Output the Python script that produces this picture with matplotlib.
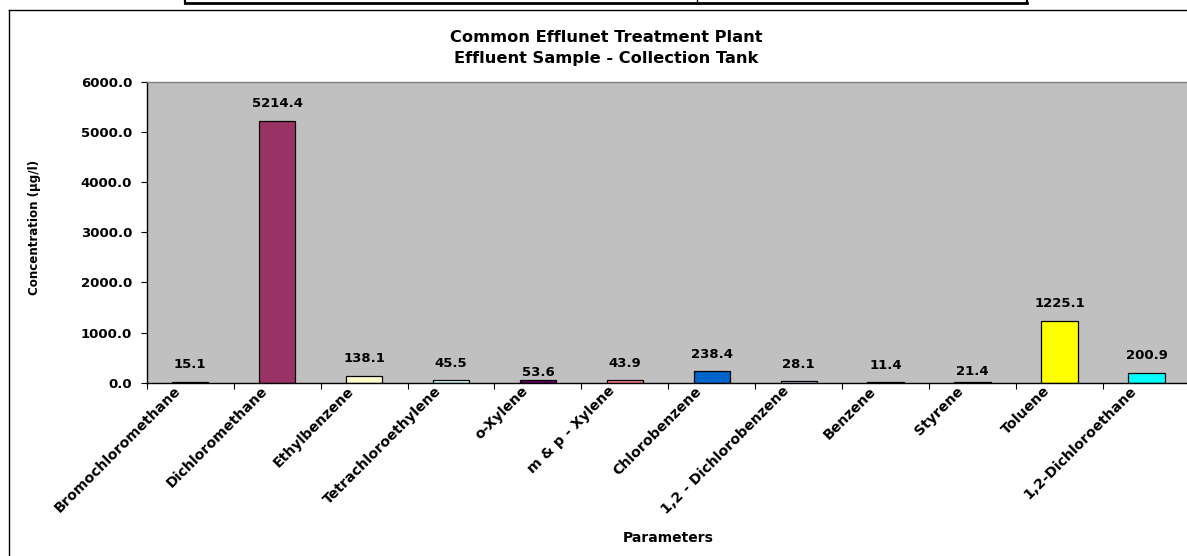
import matplotlib
matplotlib.use("Agg")
import matplotlib.pyplot as plt
from matplotlib.lines import Line2D
from matplotlib.transforms import ScaledTranslation
import numpy as np

categories = ["Bromochloromethane", "Dichloromethane", "Ethylbenzene",
              "Tetrachloroethylene", "o-Xylene", "m & p - Xylene",
              "Chlorobenzene", "1,2 - Dichlorobenzene", "Benzene",
              "Styrene", "Toluene", "1,2-Dichloroethane"]
values = [15.1, 5214.4, 138.1, 45.5, 53.6, 43.9, 238.4, 28.1, 11.4, 21.4,
          1225.1, 200.9]
bar_colors = ["#9999FF", "#993366", "#FFFFCC", "#CCFFFF", "#660066",
              "#FF8080", "#0066CC", "#CCCCFF", "#000080", "#FF00FF",
              "#FFFF00", "#00FFFF"]
label_offsets_px = [17.5, 17.5, 17, 17, 8, 17, 16.5, 17, 17, 10, 17.5, 17.5]
yticks = [0, 1000, 2000, 3000, 4000, 5000, 6000]
title_lines = ["Common Efflunet Treatment Plant",
               "Effluent Sample - Collection Tank"]

plt.rcParams['font.family'] = ['DejaVu Sans']
W, H = 1187, 556
fig = plt.figure(figsize=(W / 100, H / 100), dpi=100)
fig.patch.set_facecolor("white")

def fx(px):
    return px / W

def fy(py):
    return 1 - py / H

# outer chart frame
fig.add_artist(Line2D([fx(9), fx(9)], [fy(10.3), fy(H + 5)], color="black", lw=1.0))
fig.add_artist(Line2D([fx(9), fx(W + 5)], [fy(10.3), fy(10.3)], color="black", lw=1.0))
# top box remnant
fig.add_artist(Line2D([fx(185), fx(1027)], [fy(3), fy(3)], color="black", lw=2.0))
for xx in (185, 697, 1027):
    fig.add_artist(Line2D([fx(xx), fx(xx)], [fy(-2), fy(3)], color="black",
                          lw=1.6 if xx != 697 else 1.0))

left, right, top, bottom = 146.7, 1190.0, 82.0, 382.7
ax = fig.add_axes([fx(left), fy(bottom), fx(right - left), fy(top) - fy(bottom)])
ax.set_facecolor("#C0C0C0")

x = np.arange(len(categories))
ax.bar(x, values, width=0.42, color=bar_colors, edgecolor="black", linewidth=0.9)
ax.set_xlim(-0.5, len(categories) - 0.5)
ax.set_ylim(0, 6000)

# value labels
for xi, v, off in zip(x, values, label_offsets_px):
    ax.annotate(f"{v:.1f}", xy=(xi, v), xytext=(0, off * 0.72),
                textcoords="offset points", ha="center", va="center",
                fontsize=9.5, fontweight="bold")

ax.set_yticks(yticks)
ax.set_yticklabels([f"{t:.1f}" for t in yticks], fontsize=9.5, fontweight="bold")
ax.tick_params(axis="y", direction="out", length=4.5, width=0.8, pad=6)

ax.set_xticks(np.arange(len(categories) + 1) - 0.5, minor=False)
ax.set_xticklabels([])
ax.tick_params(axis="x", direction="out", length=4, width=0.8)
ax.set_xticks(x, minor=True)
ax.set_xticklabels(categories, minor=True, rotation=45, ha="right",
                   va="bottom", rotation_mode="anchor",
                   fontsize=10.2, fontweight="bold")
ax.tick_params(axis="x", which="minor", length=0, pad=8)
shift = ScaledTranslation(-7 / 100, 0, fig.dpi_scale_trans)
for lab in ax.get_xticklabels(minor=True):
    lab.set_transform(lab.get_transform() + shift)

for s in ("left", "bottom"):
    ax.spines[s].set_color("black")
    ax.spines[s].set_linewidth(1.0)
ax.spines["top"].set_color("#808080")
ax.spines["top"].set_linewidth(1.0)
ax.spines["right"].set_color("#808080")

fig.text(fx(35), fy(227), "Concentration (µg/l)", rotation=90, ha="center",
         va="center", fontsize=8.6, fontweight="bold")
fig.text(fx(668), fy(538), "Parameters", ha="center", va="center",
         fontsize=10, fontweight="bold")
fig.text(fx(606), fy(37), title_lines[0], ha="center", va="center",
         fontsize=11.7, fontweight="bold")
fig.text(fx(606), fy(58), title_lines[1], ha="center", va="center",
         fontsize=11.7, fontweight="bold")

fig.savefig("out.png", dpi=100, facecolor="white")
